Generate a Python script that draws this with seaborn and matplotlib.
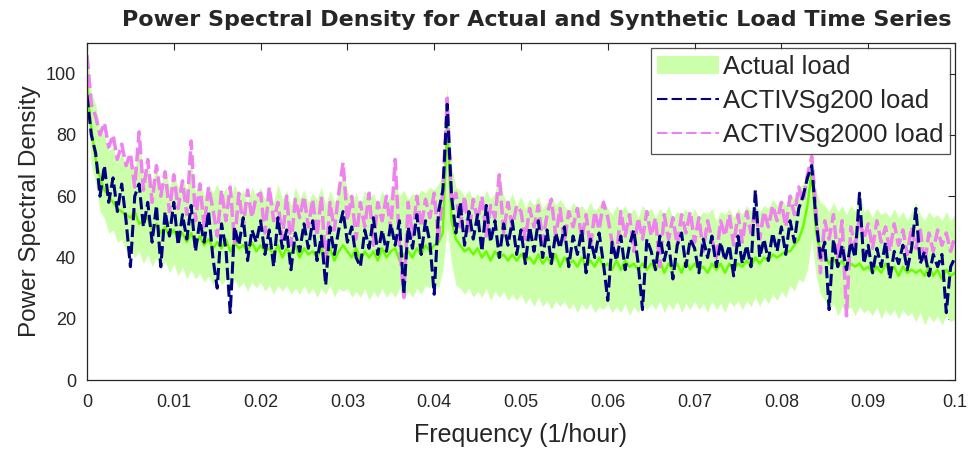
import numpy as np
import pandas as pd
import seaborn as sns
import matplotlib.pyplot as plt
from matplotlib.patches import Patch
from matplotlib.lines import Line2D

sns.set_style('white')
plt.rcParams['font.family'] = ['Liberation Sans', 'DejaVu Sans']

# frequency grid of the PSD (1/hour), 0 .. 0.1 in steps of 0.0005
freq = np.round(np.arange(201) * 0.0005, 4)

# actual load: envelope (band) and the mean curve
actual_upper = [
    108, 94, 90, 82, 80, 75, 76, 71, 74, 70,
    72, 68, 80, 66, 70, 65, 69, 64, 68, 63,
    67, 63, 66, 62, 72, 61, 65, 60, 64, 61,
    64, 60, 63, 59, 64, 60, 62, 58, 63, 60,
    63, 59, 62, 58, 64, 59, 62, 57, 63, 59,
    62, 58, 61, 59, 63, 57, 62, 58, 61, 68,
    62, 58, 61, 57, 62, 59, 61, 57, 62, 58,
    61, 64, 60, 62, 59, 61, 60, 62, 61, 63,
    62, 64, 68, 96, 70, 63, 62, 60, 62, 59,
    61, 58, 62, 59, 61, 68, 60, 58, 61, 57,
    60, 56, 59, 57, 60, 56, 58, 60, 57, 59,
    57, 55, 58, 56, 57, 55, 58, 55, 57, 59,
    56, 54, 57, 55, 57, 54, 56, 53, 57, 55,
    56, 53, 56, 54, 57, 53, 55, 54, 56, 53,
    56, 53, 55, 54, 56, 52, 55, 54, 56, 53,
    56, 54, 57, 55, 58, 55, 57, 56, 59, 57,
    59, 57, 61, 59, 63, 64, 68, 76, 62, 58,
    57, 55, 58, 55, 57, 54, 57, 55, 62, 55,
    56, 53, 56, 54, 55, 53, 56, 53, 55, 52,
    55, 58, 54, 52, 55, 53, 54, 52, 55, 52,
    54]
actual_lower = [
    92, 70, 64, 55, 53, 48, 49, 45, 46, 42,
    43, 40, 42, 38, 41, 37, 40, 36, 39, 35,
    38, 34, 37, 33, 36, 33, 35, 32, 34, 31,
    34, 31, 33, 30, 33, 30, 32, 29, 32, 30,
    32, 29, 31, 28, 31, 29, 31, 28, 30, 28,
    31, 28, 30, 27, 30, 28, 31, 27, 30, 29,
    30, 27, 29, 27, 30, 26, 29, 27, 30, 27,
    29, 27, 30, 26, 29, 27, 30, 28, 31, 30,
    32, 30, 36, 50, 38, 31, 30, 28, 30, 27,
    29, 27, 30, 26, 29, 27, 29, 26, 28, 26,
    28, 25, 27, 24, 27, 24, 26, 23, 26, 24,
    26, 23, 25, 22, 25, 23, 25, 22, 24, 23,
    25, 22, 24, 22, 25, 21, 24, 22, 25, 23,
    25, 23, 26, 22, 25, 23, 26, 22, 25, 23,
    26, 23, 25, 22, 26, 23, 25, 22, 26, 24,
    26, 23, 26, 24, 27, 24, 27, 25, 28, 26,
    29, 27, 31, 29, 33, 32, 36, 46, 34, 28,
    26, 23, 25, 21, 24, 22, 24, 21, 24, 22,
    23, 21, 24, 20, 23, 21, 23, 20, 23, 21,
    22, 19, 22, 18, 21, 19, 21, 18, 21, 19,
    20]
actual_mean = [
    96, 82, 72, 66, 62, 60, 58, 56, 55, 54,
    53, 55, 51, 52, 53, 49, 51, 48, 50, 47,
    49, 46, 48, 45, 48, 44, 47, 44, 46, 43,
    45, 43, 46, 42, 45, 43, 44, 42, 45, 42,
    44, 42, 43, 41, 44, 40, 43, 41, 44, 40,
    43, 41, 42, 40, 43, 40, 43, 39, 42, 44,
    42, 40, 43, 39, 42, 40, 42, 39, 43, 40,
    42, 43, 39, 41, 42, 40, 43, 41, 44, 42,
    44, 45, 48, 84, 52, 46, 44, 42, 43, 41,
    43, 40, 42, 39, 42, 40, 41, 39, 41, 39,
    41, 39, 40, 38, 41, 38, 40, 38, 41, 37,
    40, 38, 39, 37, 40, 37, 39, 37, 40, 37,
    38, 36, 39, 36, 39, 37, 38, 36, 38, 36,
    38, 36, 39, 35, 38, 36, 38, 35, 39, 36,
    38, 36, 37, 35, 38, 36, 38, 35, 38, 36,
    38, 37, 39, 37, 40, 38, 40, 39, 41, 40,
    41, 42, 42, 44, 46, 50, 57, 68, 48, 42,
    41, 38, 40, 37, 39, 36, 38, 37, 38, 36,
    37, 35, 37, 35, 38, 35, 37, 34, 37, 35,
    36, 35, 36, 34, 37, 34, 36, 33, 36, 34,
    35]

# ACTIVSg200 synthetic load PSD
g200 = [
    93, 80, 74, 60, 70, 58, 66, 55, 64, 52,
    37, 60, 64, 50, 58, 45, 57, 37, 55, 47,
    58, 44, 54, 46, 57, 42, 52, 45, 55, 40,
    30, 51, 43, 22, 50, 44, 53, 39, 49, 45,
    52, 41, 49, 37, 53, 43, 49, 36, 48, 42,
    51, 43, 52, 39, 47, 31, 50, 41, 49, 55,
    45, 50, 40, 37, 49, 43, 53, 41, 49, 42,
    51, 44, 52, 28, 50, 43, 54, 41, 52, 45,
    28, 55, 62, 90, 60, 48, 58, 44, 55, 46,
    54, 42, 57, 45, 52, 40, 51, 44, 52, 41,
    49, 38, 50, 42, 52, 40, 49, 38, 48, 43,
    50, 37, 47, 41, 49, 35, 46, 40, 48, 38,
    26, 45, 39, 47, 36, 44, 49, 38, 23, 46,
    42, 36, 47, 39, 45, 33, 44, 48, 37, 46,
    43, 35, 46, 40, 47, 37, 45, 39, 44, 34,
    47, 38, 44, 37, 62, 40, 46, 39, 48, 42,
    50, 41, 52, 45, 56, 60, 66, 70, 52, 40,
    45, 23, 46, 37, 44, 36, 45, 40, 61, 38,
    44, 35, 43, 37, 45, 33, 42, 38, 44, 36,
    43, 56, 38, 42, 34, 41, 37, 41, 22, 37,
    40]

# ACTIVSg2000 synthetic load PSD
g2000 = [
    106, 90, 86, 80, 84, 76, 80, 72, 77, 70,
    74, 63, 81, 62, 72, 58, 70, 60, 68, 55,
    67, 56, 65, 54, 78, 52, 64, 50, 63, 56,
    47, 62, 52, 63, 45, 61, 50, 62, 53, 60,
    61, 48, 63, 52, 58, 46, 60, 44, 59, 53,
    60, 50, 59, 47, 60, 38, 58, 49, 61, 71,
    52, 60, 46, 58, 50, 61, 44, 58, 52, 60,
    49, 72, 44, 27, 58, 47, 60, 50, 59, 53,
    61, 46, 62, 92, 58, 61, 50, 60, 48, 59,
    52, 60, 47, 57, 53, 67, 48, 58, 50, 57,
    55, 46, 56, 50, 57, 45, 54, 59, 47, 56,
    45, 55, 50, 56, 46, 54, 43, 55, 49, 58,
    53, 45, 40, 55, 47, 54, 42, 53, 46, 55,
    47, 53, 37, 54, 46, 53, 44, 54, 48, 55,
    45, 53, 42, 52, 46, 40, 52, 47, 54, 44,
    54, 45, 55, 48, 56, 46, 55, 50, 57, 52,
    58, 50, 60, 54, 63, 58, 67, 73, 55, 35,
    52, 46, 54, 40, 52, 21, 50, 44, 53, 46,
    51, 43, 52, 45, 50, 42, 51, 44, 49, 41,
    50, 43, 49, 38, 48, 42, 49, 44, 48, 42,
    47]

df = pd.DataFrame({'freq': freq, 'lower': actual_lower, 'upper': actual_upper,
                   'mean': actual_mean, 'g200': g200, 'g2000': g2000})

band_color = '#ccffaa'
mean_color = '#66ff00'
c200 = '#000080'
c2000 = '#ee82ee'
dash = (0, (4, 1.5))

fig = plt.figure(figsize=(9.71, 4.53), dpi=100)
ax = fig.add_axes([0.0896, 0.161, 0.8939, 0.744])

ax.fill_between(df['freq'], df['lower'], df['upper'], color=band_color, lw=0)
sns.lineplot(data=df, x='freq', y='mean', color=mean_color, lw=1.8, ax=ax, estimator=None)
sns.lineplot(data=df, x='freq', y='g2000', color=c2000, lw=2.5, ax=ax, estimator=None,
             linestyle=dash)
sns.lineplot(data=df, x='freq', y='g200', color=c200, lw=2.2, ax=ax, estimator=None,
             linestyle=dash)

ax.set_xlim(0, 0.1)
ax.set_ylim(0, 110)
ax.set_xticks(np.arange(0, 0.1001, 0.01))
ax.set_xticklabels(['0'] + ['%.2f' % v for v in np.arange(0.01, 0.095, 0.01)] + ['0.1'])
ax.set_yticks([0, 20, 40, 60, 80, 100])
ax.tick_params(direction='in', length=5, width=0.8, top=True, right=True,
               labelsize=13, colors='#262626')
ax.tick_params(axis='x', pad=10)
ax.tick_params(axis='y', pad=8)
for s in ax.spines.values():
    s.set_color('#262626')
    s.set_linewidth(0.9)

ax.set_xlabel('Frequency (1/hour)', fontsize=18, color='#262626', labelpad=9)
ax.set_ylabel('Power Spectral Density', fontsize=17.5, color='#262626', labelpad=3)
ax.set_title('Power Spectral Density for Actual and Synthetic Load Time Series',
             fontsize=16, fontweight='bold', pad=12, family='DejaVu Sans', x=0.518)

handles = [Patch(facecolor=band_color, edgecolor='none'),
           Line2D([], [], color=c200, lw=1.5, linestyle=(0, (5, 2))),
           Line2D([], [], color=c2000, lw=1.5, linestyle=(0, (5, 2)))]
leg = ax.legend(handles, ['Actual load', 'ACTIVSg200 load', 'ACTIVSg2000 load'],
                loc='upper right', fontsize=18.5, frameon=True, fancybox=False,
                handlelength=2.4, handletextpad=0.15, borderpad=0.25, labelspacing=0.4,
                borderaxespad=0.2)
leg.get_frame().set_edgecolor('#262626')
leg.get_frame().set_linewidth(0.9)

fig.savefig('out.png', dpi=100)
